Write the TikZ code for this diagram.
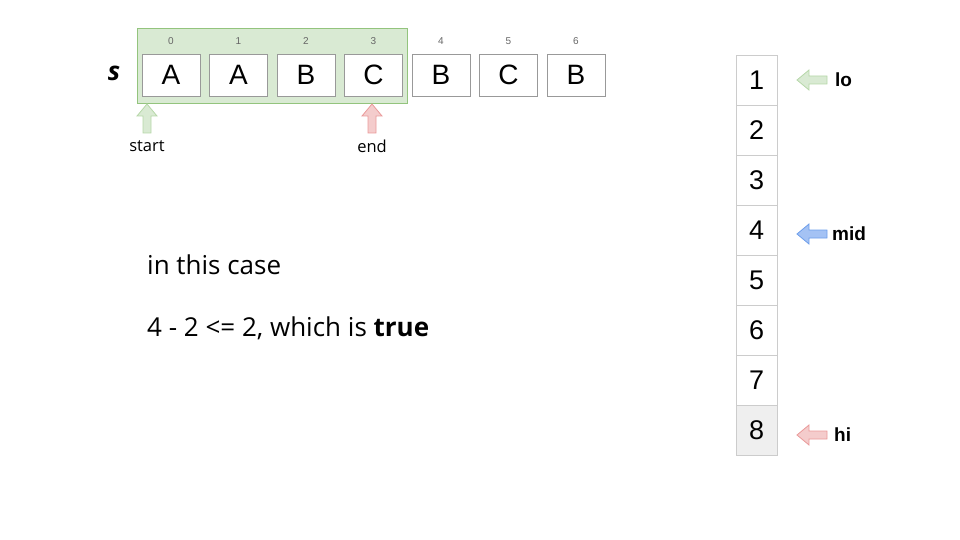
\documentclass[tikz,border=0pt]{standalone}
\usepackage{fontspec}
\setmainfont{Open Sans}
\newfontfamily\arialf{Liberation Sans}
\usetikzlibrary{positioning}
\definecolor{selfill}{HTML}{D9EAD3}
\definecolor{seldraw}{HTML}{93C47D}
\definecolor{grnfill}{HTML}{D9EAD3}
\definecolor{grndraw}{HTML}{B6D7A8}
\definecolor{redfill}{HTML}{F4CCCC}
\definecolor{reddraw}{HTML}{EA9999}
\definecolor{bluefill}{HTML}{A4C2F4}
\definecolor{bluedraw}{HTML}{6D9EEB}
\definecolor{boxdraw}{HTML}{999999}
\definecolor{celldraw}{HTML}{CCCCCC}
\definecolor{hifill}{HTML}{EFEFEF}
\definecolor{idxgray}{HTML}{666666}
\tikzset{
  charbox/.style={draw=boxdraw, fill=white, line width=0.8pt, minimum width=58pt, minimum height=42pt, inner sep=0pt, font=\arialf\fontsize{28}{28}\selectfont},
  idx/.style={text=idxgray, inner sep=0pt, font=\arialf\fontsize{10}{10}\selectfont},
  cell/.style={draw=celldraw, fill=white, line width=0.8pt, minimum width=41pt, minimum height=50pt, inner sep=0pt, font=\arialf\fontsize{27}{27}\selectfont},
  ptrlabel/.style={anchor=west, inner sep=0pt, font=\arialf\bfseries\fontsize{19}{19}\selectfont},
  smalllabel/.style={inner sep=0pt, font=\fontsize{16.5}{16.5}\selectfont},
  bigtext/.style={anchor=base west, inner sep=0pt, font=\fontsize{26}{26}\selectfont},
  blockarrow/.style={line width=0.8pt, line join=miter},
}
\begin{document}
\begin{tikzpicture}[x=1pt, y=-1pt]
\useasboundingbox (0,0) rectangle (960,540);
% selection window
\node[draw=seldraw, fill=selfill, line width=0.8pt, minimum width=270pt, minimum height=75pt, inner sep=0pt] (win) at (272,65.5) {};
% characters
\foreach \c [count=\i from 0] in {A,A,B,C,B,C,B} {
  \node[charbox] (b\i) at (171+67.5*\i, 75) {\c};
  \node[idx] (i\i) at (171+67.5*\i, 41) {\i};
}
\node[inner sep=0pt, font=\bfseries\itshape\fontsize{26}{26}\selectfont] (s) at (114,73) {s};
% start / end arrows
\draw[blockarrow, draw=grndraw, fill=grnfill] (147,104) -- (157,116) -- (151,116) -- (151,133) -- (143,133) -- (143,116) -- (137,116) -- cycle;
\draw[blockarrow, draw=reddraw, fill=redfill] (372,104) -- (382,116) -- (376,116) -- (376,133) -- (368,133) -- (368,116) -- (362,116) -- cycle;
\node[smalllabel] (start) at (147,146) {start};
\node[smalllabel] (end) at (372,146) {end};
% text
\node[bigtext] (t1) at (147,274) {in this case};
\node[bigtext] (t2) at (147,336) {4 - 2 <= 2, which is \textbf{true}};
% column
\foreach \n in {1,...,7} {
  \node[cell] (c\n) at (756.5, 30+50*\n) {\n};
}
\node[cell, fill=hifill] (c8) at (756.5, 430) {8};
% pointer arrows
\foreach \y/\f/\d in {80/grnfill/grndraw, 234/bluefill/bluedraw, 435/redfill/reddraw} {
  \draw[blockarrow, draw=\d, fill=\f] (797,\y) -- (809,\y-10) -- (809,\y-4) -- (827,\y-4) -- (827,\y+4) -- (809,\y+4) -- (809,\y+10) -- cycle;
}
\node[ptrlabel] (lo) at (835,80) {lo};
\node[ptrlabel] (mid) at (832,234) {mid};
\node[ptrlabel] (hi) at (834,435) {hi};
\end{tikzpicture}
\end{document}
